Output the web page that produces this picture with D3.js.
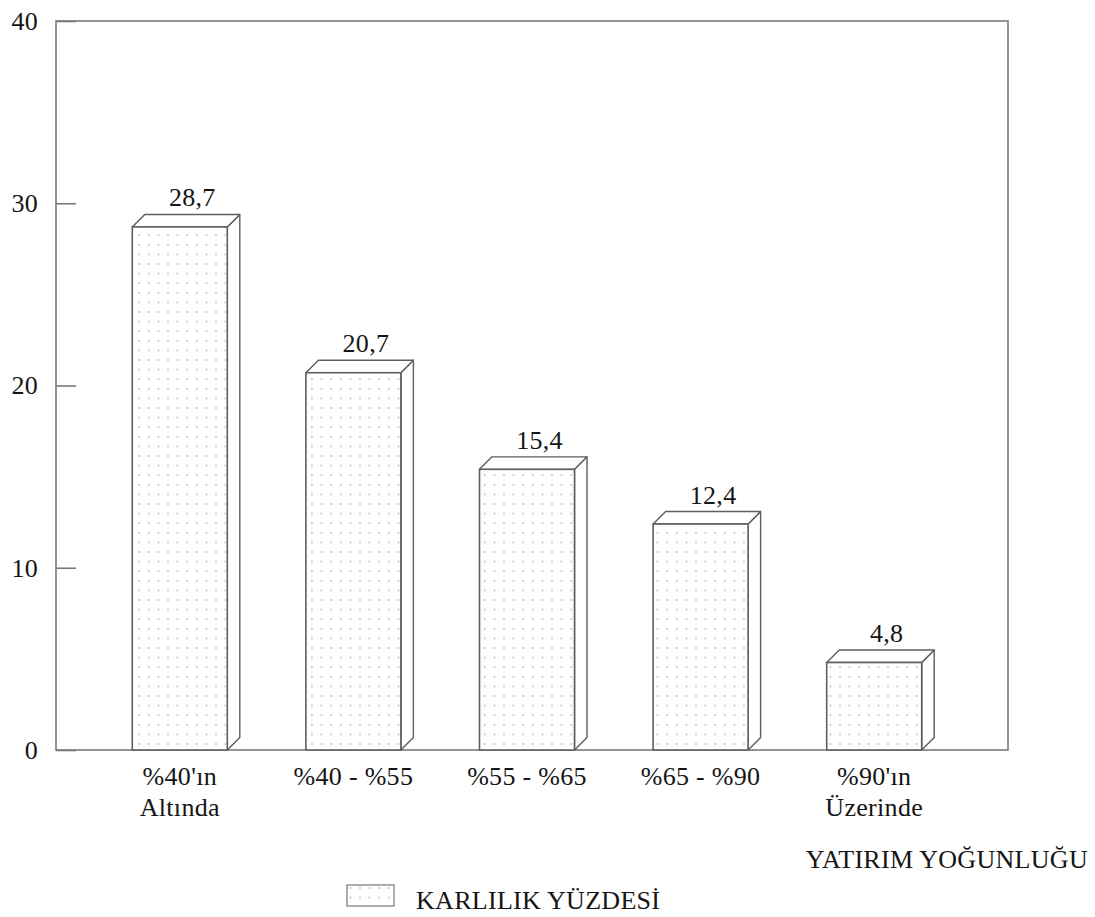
<!DOCTYPE html>
<html>
<head>
<meta charset="utf-8">
<script src="https://cdn.jsdelivr.net/npm/d3@7"></script>
<style>
  html, body { margin: 0; padding: 0; background: #fff; }
  svg text { font-family: "Liberation Serif", "Times New Roman", Tinos, "DejaVu Serif", "Noto Serif", serif; letter-spacing: 0.3px; }
</style>
</head>
<body>
<svg id="chart" width="1095" height="917"></svg>
<script>
// Profitability share by investment intensity band
const categories = [["%40'ın", "Altında"], ["%40 - %55"], ["%55 - %65"], ["%65 - %90"], ["%90'ın", "Üzerinde"]];
const values = [28.7, 20.7, 15.4, 12.4, 4.8];
const valueLabels = ["28,7", "20,7", "15,4", "12,4", "4,8"];
const yTicks = [0, 10, 20, 30, 40];
const xTitle = "YATIRIM YOĞUNLUĞU";
const seriesName = "KARLILIK YÜZDESİ";

const serif = "'Liberation Serif', 'Times New Roman', Tinos, 'DejaVu Serif', 'Noto Serif', serif";
const svg = d3.select("#chart");
const frame = { left: 56, right: 1008, top: 21, bottom: 750 };
const depth = 12.5;
const barWidth = 95;
const axisColor = "#7a7a7a";
const barStroke = "#5e5e5e";
const textColor = "#151515";
const fontSize = 26;

const keys = categories.map((c, i) => i);
const x = d3.scalePoint().domain(keys).range([93, 961]).padding(0.5);
const y = d3.scaleLinear().domain([0, 40]).range([frame.bottom, frame.top]);

// Dotted fill
const defs = svg.append("defs");
const pat = defs.append("pattern")
  .attr("id", "dots")
  .attr("patternUnits", "userSpaceOnUse")
  .attr("width", 9.6).attr("height", 9.6);
pat.append("rect").attr("width", 9.6).attr("height", 9.6).attr("fill", "#fff");
pat.append("circle").attr("cx", 4.8).attr("cy", 4.8).attr("r", 0.8).attr("fill", "#8c8c8c");

// Plot frame
svg.append("rect")
  .attr("x", frame.left).attr("y", frame.top)
  .attr("width", frame.right - frame.left)
  .attr("height", frame.bottom - frame.top)
  .attr("fill", "none")
  .attr("stroke", axisColor)
  .attr("stroke-width", 1.6);

// Y axis: inward ticks, labels outside
const yAxis = d3.axisLeft(y)
  .tickValues(yTicks)
  .tickSizeInner(-20)
  .tickSizeOuter(0)
  .tickPadding(18)
  .tickFormat(d3.format("d"));
const gy = svg.append("g").attr("transform", `translate(${frame.left},0)`).call(yAxis);
gy.attr("font-family", serif).attr("font-size", fontSize);
gy.select(".domain").remove();
gy.selectAll(".tick line").attr("stroke", axisColor).attr("stroke-width", 1.6);
gy.selectAll(".tick text").attr("fill", textColor);

// 3D bars
const bars = svg.append("g");
keys.forEach(i => {
  const cx = x(i);
  const x0 = cx - barWidth / 2, x1 = cx + barWidth / 2;
  const yTop = y(values[i]), yBase = y(0);
  const g = bars.append("g");
  // side face
  g.append("path")
    .attr("d", `M${x1},${yTop} L${x1 + depth},${yTop - depth} L${x1 + depth},${yBase - depth} L${x1},${yBase} Z`)
    .attr("fill", "#fff").attr("stroke", barStroke).attr("stroke-width", 1.4).attr("stroke-linejoin", "round");
  // top face
  g.append("path")
    .attr("d", `M${x0},${yTop} L${x0 + depth},${yTop - depth} L${x1 + depth},${yTop - depth} L${x1},${yTop} Z`)
    .attr("fill", "#fff").attr("stroke", barStroke).attr("stroke-width", 1.4).attr("stroke-linejoin", "round");
  // front face
  g.append("rect")
    .attr("x", x0).attr("y", yTop)
    .attr("width", barWidth).attr("height", yBase - yTop)
    .attr("fill", "url(#dots)").attr("stroke", barStroke).attr("stroke-width", 1.6);
  // value label
  g.append("text")
    .attr("x", cx + depth)
    .attr("y", yTop - depth - 8)
    .attr("text-anchor", "middle")
    .attr("fill", textColor)
    .attr("font-family", serif)
    .attr("font-size", fontSize)
    .text(valueLabels[i]);
});

// Category labels
const cat = svg.append("g");
keys.forEach(i => {
  const t = cat.append("text")
    .attr("x", x(i))
    .attr("y", 785)
    .attr("text-anchor", "middle")
    .attr("fill", textColor)
    .attr("font-family", serif)
    .attr("font-size", fontSize);
  categories[i].forEach((line, j) => {
    t.append("tspan").attr("x", x(i)).attr("dy", j === 0 ? 0 : 31).text(line);
  });
});

// Axis title
svg.append("text")
  .attr("x", 1088).attr("y", 868)
  .attr("text-anchor", "end")
  .attr("fill", textColor)
  .attr("font-family", serif)
  .attr("font-size", fontSize)
  .text(xTitle);

// Legend
const legend = svg.append("g");
legend.append("rect")
  .attr("x", 347).attr("y", 885).attr("width", 47).attr("height", 21)
  .attr("fill", "url(#dots)").attr("stroke", "#8a8a8a").attr("stroke-width", 1.4);
legend.append("text")
  .attr("x", 416).attr("y", 909)
  .attr("fill", textColor)
  .attr("font-family", serif)
  .attr("font-size", fontSize)
  .text(seriesName);
</script>
</body>
</html>
